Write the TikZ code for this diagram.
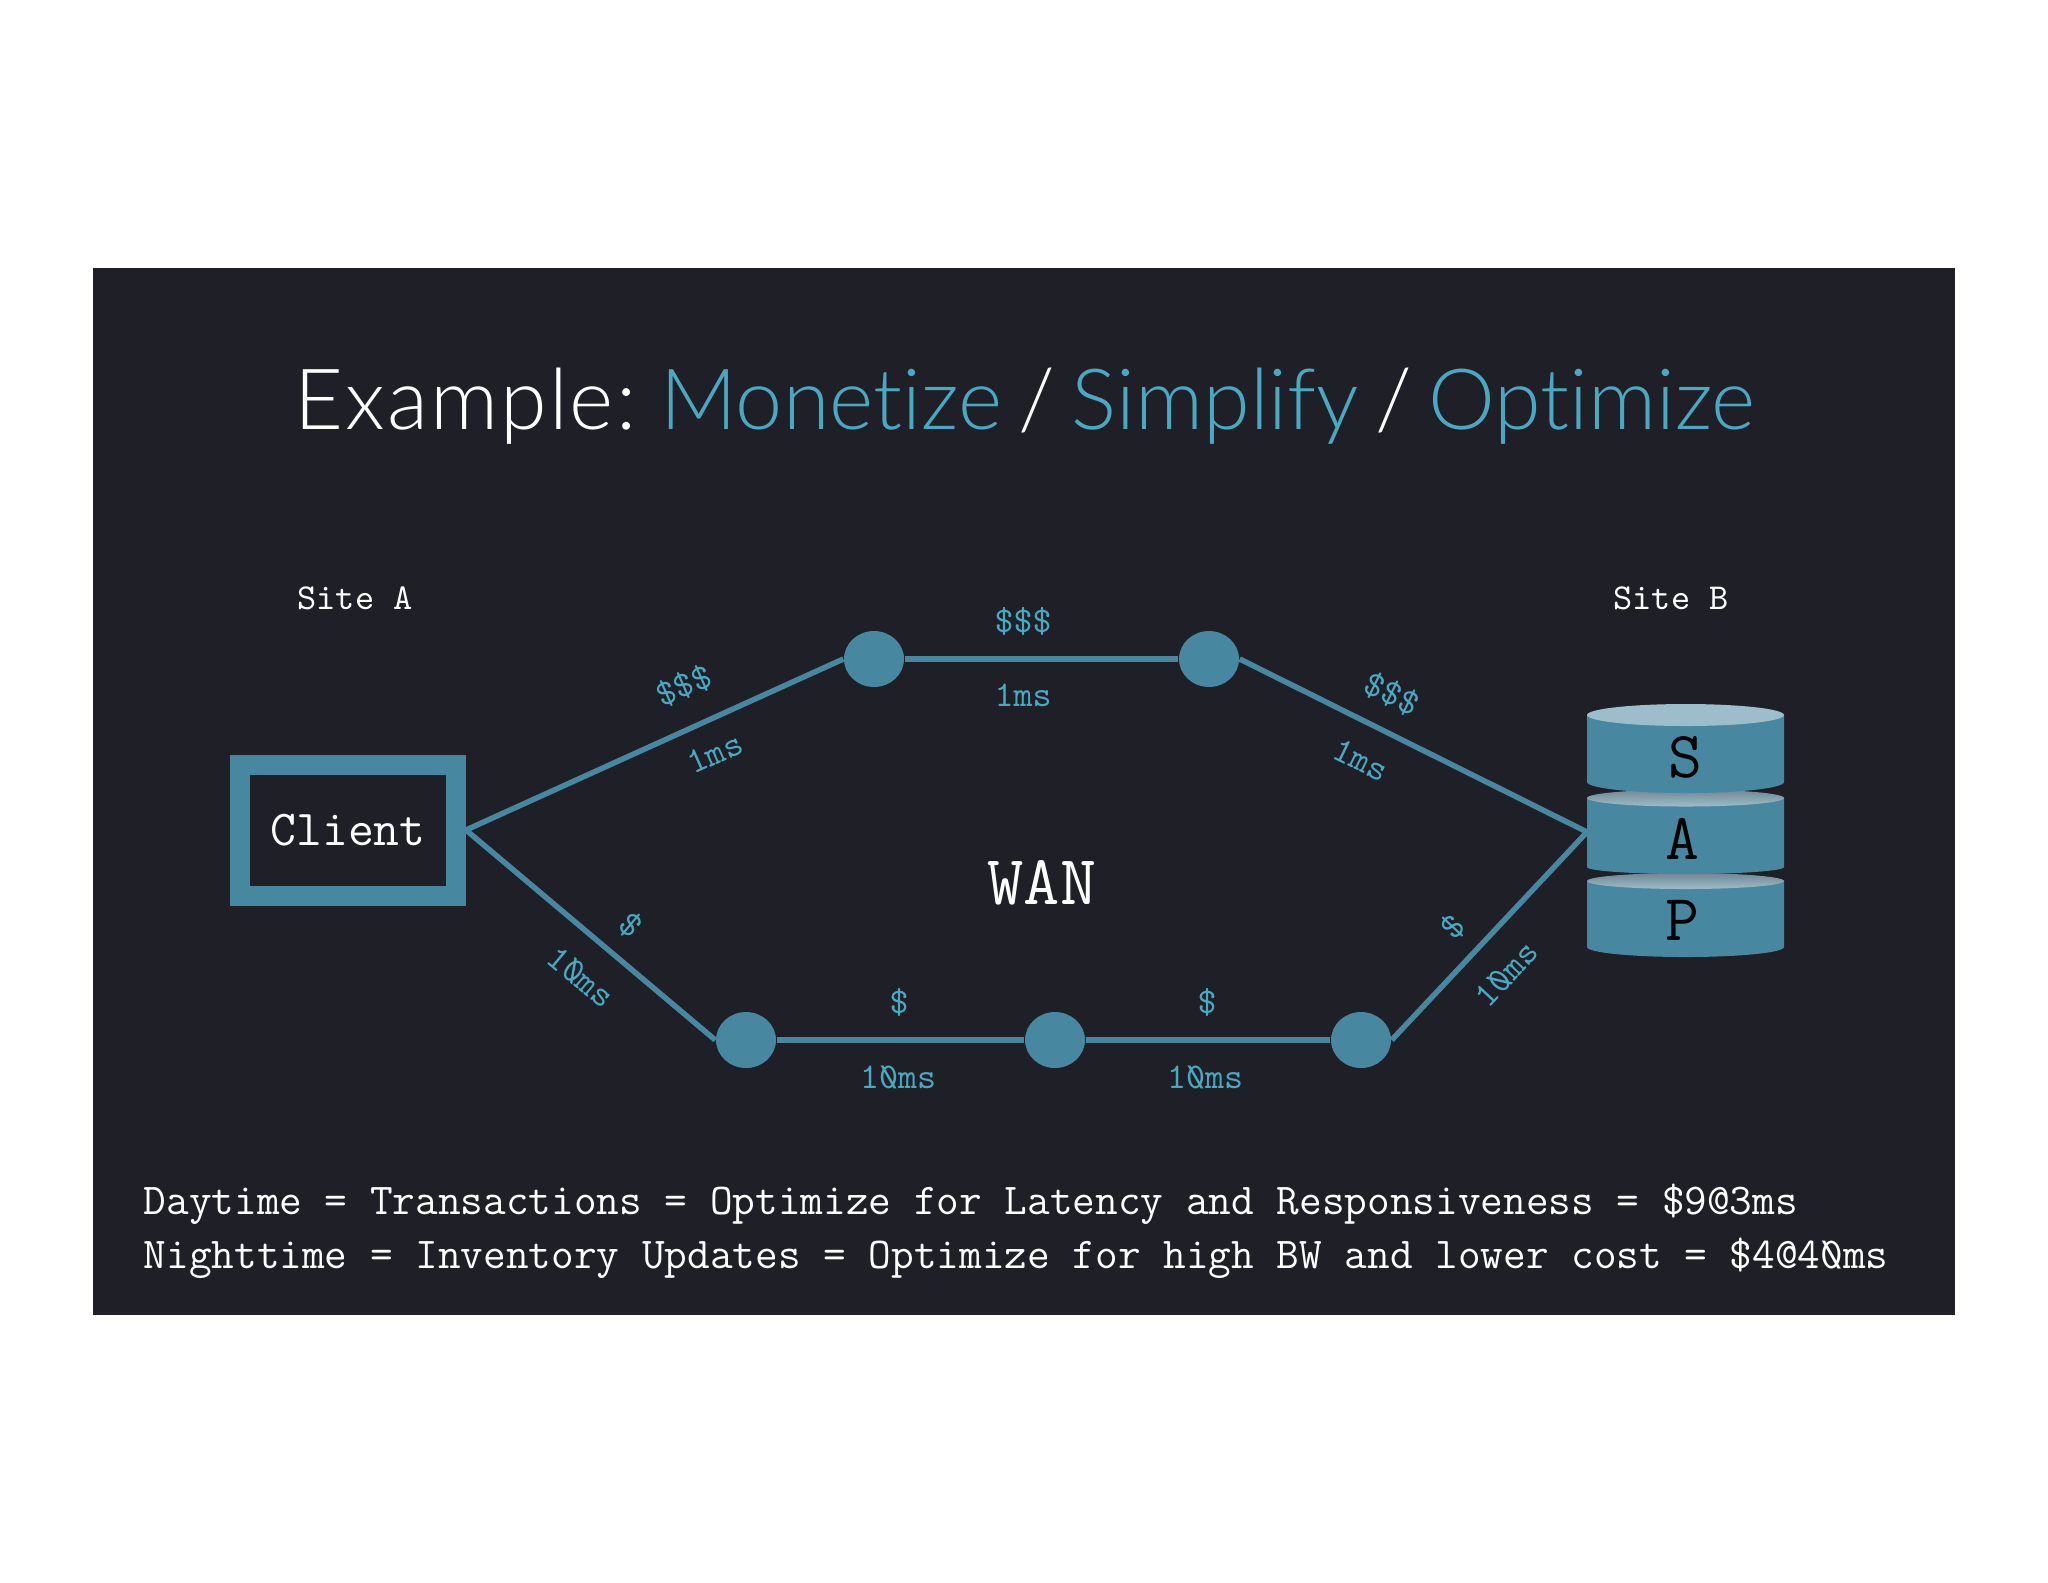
\documentclass[tikz,border=0pt]{standalone}
\usepackage{fontspec}
\setmainfont[WordSpace=0.72, Ligatures=NoCommon]{Lato Light}
\setmonofont[Numbers=SlashedZero]{Latin Modern Mono}
\usetikzlibrary{shapes.geometric}
\definecolor{slidebg}{HTML}{1E1F27}
\definecolor{wanblue}{HTML}{47879F}
\definecolor{wantext}{HTML}{4AA8C0}
\definecolor{disktop}{HTML}{9DBDCA}
\definecolor{diskshade}{HTML}{6F8793}
\tikzset{
	routerdot/.style={ellipse, fill=wanblue, minimum width=6mm, minimum height=5.6mm, inner sep=0pt},
	wanline/.style={color=wanblue, line width=0.55mm},
	linklabel/.style={color=wantext, font=\ttfamily\fontsize{10.3}{12}\selectfont, inner sep=0pt},
	sitelabel/.style={color=white, font=\ttfamily\fontsize{10.4}{12}\selectfont, inner sep=0pt},
	saplabel/.style={color=black, font=\ttfamily\bfseries\fontsize{18.7}{20}\selectfont, inner sep=0pt},
	notelabel/.style={color=white, font=\ttfamily\fontsize{12.52}{15}\selectfont, inner sep=0pt, anchor=base west}
}
\def\sapdisk(#1:#2:#3:#4:#5){
	\fill[wanblue] (1587,#1) -- (1587,#3) arc[start angle=180, end angle=360, x radius=9.85mm, y radius=#4 mm] -- (1784,#1) -- cycle;
	\shade[top color=#5, bottom color=disktop] (1685.5,#1) ellipse [x radius=9.85mm, y radius=#2 mm];
}
\begin{document}
\begin{tikzpicture}[x=0.1mm, y=-0.1mm]
		%%%%% START %%%%%
		\useasboundingbox (0, 0) rectangle (2048, 1582);
		\fill[white] (0, 0) rectangle (2048, 1582);
		\fill[slidebg] (93, 268) rectangle (1955, 1315);
		
		\node[color=white, font=\fontsize{24.05}{28}\selectfont, inner sep=0pt] (title) at (1025, 406)
			{{\addfontfeature{LetterSpace=2.5}Example:} \textcolor{wantext}{Monetize} / \textcolor{wantext}{Simplify} / \textcolor{wantext}{Optimize}};
		
		\node[sitelabel] (siteA) at (355, 598) {Site A};
		\node[sitelabel] (siteB) at (1671, 598) {Site B};
		
		\node[draw=wanblue, line width=2mm, minimum width=21.6mm, minimum height=13.1mm, inner sep=0pt,
			text=white, font=\ttfamily\fontsize{14.3}{16}\selectfont] (client) at (348, 830) {Client};
		
		\sapdisk(881:0.8:947:1.0:diskshade)
		\sapdisk(798:0.85:867:0.7:diskshade)
		\sapdisk(715:1.1:782:1.1:disktop)
		\coordinate (sap) at (1587, 832);
		\node[saplabel] (sapS) at (1685, 757) {S};
		\node[saplabel] (sapA) at (1682, 839) {A};
		\node[saplabel] (sapP) at (1682, 920) {P};
		
		\node[routerdot] (upA) at (874, 659) {};
		\node[routerdot] (upB) at (1209, 659) {};
		\node[routerdot] (lowA) at (746, 1040) {};
		\node[routerdot] (lowB) at (1055, 1040) {};
		\node[routerdot] (lowC) at (1361, 1040) {};
		
		\draw[wanline] (client.east) -- (upA.west);
		\draw[wanline] (upA) -- (upB);
		\draw[wanline] (upB.east) -- (sap);
		\draw[wanline] (client.east) -- (lowA.west);
		\draw[wanline] (lowA) -- (lowB);
		\draw[wanline] (lowB) -- (lowC);
		\draw[wanline] (lowC.east) -- (sap);
		
		\node[color=white, font=\ttfamily\bfseries\fontsize{20}{24}\selectfont, inner sep=0pt] (wan) at (1042, 883) {WAN};
		
		\node[linklabel, rotate=24] (costA) at (684, 686) {\$\$\$};
		\node[linklabel, rotate=24] (delayA) at (715, 753) {1ms};
		\node[linklabel] (costB) at (1023, 621) {\$\$\$};
		\node[linklabel] (delayB) at (1023, 695) {1ms};
		\node[linklabel, rotate=-26] (costC) at (1392, 694) {\$\$\$};
		\node[linklabel, rotate=-26] (delayC) at (1361, 760) {1ms};
		
		\node[linklabel, rotate=-40] (costD) at (631, 925) {\$};
		\node[linklabel, rotate=-40] (delayD) at (581, 977) {10ms};
		\node[linklabel] (costE) at (899, 1002) {\$};
		\node[linklabel] (delayE) at (898, 1077) {10ms};
		\node[linklabel] (costF) at (1207, 1002) {\$};
		\node[linklabel] (delayF) at (1205, 1077) {10ms};
		\node[linklabel, rotate=47] (costG) at (1453, 927) {\$};
		\node[linklabel, rotate=47] (delayG) at (1506, 974) {10ms};
		
		\node[notelabel] (dayNote) at (143, 1214) {Daytime = Transactions = Optimize for Latency and Responsiveness = \$9@3ms};
		\node[notelabel] (nightNote) at (143, 1268) {Nighttime = Inventory Updates = Optimize for high BW and lower cost = \$4@40ms};
		%%%%% END %%%%%
	\end{tikzpicture}
\end{document}
